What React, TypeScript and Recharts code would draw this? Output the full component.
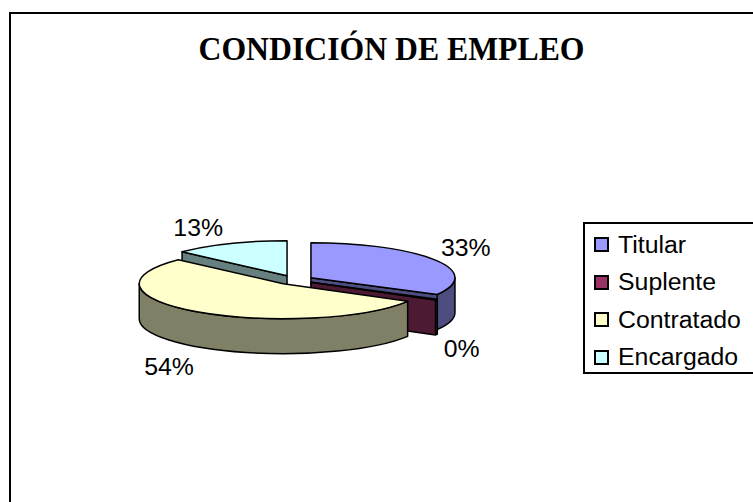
import React from "react";
import { PieChart, Pie, Legend } from "recharts";

const categories = ["Titular", "Suplente", "Contratado", "Encargado"];
const shares = [33, 0.4, 53.6, 13];
const topColors = ["#9999FF", "#993366", "#FFFFCC", "#CCFFFF"];
const wallColors = ["#4D4D80", "#4D1A33", "#808066", "#668080"];
const title = "CONDICIÓN DE EMPLEO";

const rows = categories.map((name, i) => ({ name, value: shares[i], fill: topColors[i] }));

const W = 753;
const H = 502;
const CX = 294.6;
const CY = 280;
const RX = 144;
const RY = 35;
const DEPTH = 35;
const EXPLODE = 19;
const TEXT_STRETCH = 1.08;
const LABEL_NUDGE = [[-1, 12], [-7, 43], [-6, 39], [-17, 20]];

const FONT = "'Liberation Sans', Arial, sans-serif";

function geometry(p: any) {
  const a0 = 90 - p.startAngle;
  const a1 = 90 - p.endAngle;
  const mid = ((a0 + a1) / 2) * (Math.PI / 180);
  const r = p.outerRadius;
  const k = RY / RX;
  const ox = p.cx + EXPLODE * Math.sin(mid);
  const oy = p.cy - EXPLODE * k * Math.cos(mid);
  const pt = (deg: number, drop = 0) => {
    const t = (deg * Math.PI) / 180;
    return [ox + r * Math.sin(t), oy - r * k * Math.cos(t) + drop];
  };
  return { a0, a1, r, ry: r * k, ox, oy, pt };
}

function TopShape(p: any) {
  const { a0, a1, r, ry, ox, oy, pt } = geometry(p);
  const [sx, sy] = pt(a0);
  const [ex, ey] = pt(a1);
  const large = a1 - a0 > 180 ? 1 : 0;
  return (
    <path
      d={`M${ox},${oy} L${sx},${sy} A${r},${ry} 0 ${large} 1 ${ex},${ey} Z`}
      fill={p.fill}
      stroke="#000"
      strokeWidth={1.5}
      strokeLinejoin="round"
    />
  );
}

function WallShape(p: any) {
  const { a0, a1, r, ry, ox, oy, pt } = geometry(p);
  const color = wallColors[categories.indexOf(p.name)];
  const parts: string[] = [];
  const face = (deg: number) => {
    const [x, y] = pt(deg);
    const [xd, yd] = pt(deg, DEPTH);
    parts.push(`M${ox},${oy} L${x},${y} L${xd},${yd} L${ox},${oy + DEPTH} Z`);
  };
  if (a1 > 0 && a1 < 180) face(a1);
  if (a0 > 180 && a0 < 360) face(a0);
  const from = Math.max(a0, 90);
  const to = Math.min(a1, 270);
  if (to > from) {
    const [sx, sy] = pt(from);
    const [ex, ey] = pt(to);
    const [exd, eyd] = pt(to, DEPTH);
    const [sxd, syd] = pt(from, DEPTH);
    parts.push(
      `M${sx},${sy} A${r},${ry} 0 0 1 ${ex},${ey} L${exd},${eyd} A${r},${ry} 0 0 0 ${sxd},${syd} Z`
    );
  }
  return <path d={parts.join(" ")} fill={color} stroke="#000" strokeWidth={1.5} strokeLinejoin="round" />;
}

function PercentLabel(p: any) {
  const t = ((90 - p.midAngle) * Math.PI) / 180;
  const [nx, ny] = LABEL_NUDGE[p.index];
  const x = CX + 200 * Math.sin(t) + nx;
  const y = CY - 70 * Math.cos(t) + ny;
  return (
    <text
      transform={`translate(${x},${y}) scale(${TEXT_STRETCH},1)`}
      textAnchor="middle"
      fontFamily={FONT}
      fontSize={23}
      fill="#000"
    >
      {`${Math.round(p.percent * 100)}%`}
    </text>
  );
}

function LegendBox({ payload }: any) {
  const items = categories.map((name, i) => ({
    value: (payload || []).find((e: any) => e.value === name)?.value ?? name,
    color: topColors[i],
  }));
  return (
    <div
      style={{
        boxSizing: "border-box",
        width: 200,
        height: 152,
        border: "2px solid #000",
        background: "#fff",
        paddingTop: 2,
      }}
    >
      {items.map((item) => (
        <div key={item.value} style={{ height: 37.5, display: "flex", alignItems: "center", position: "relative" }}>
          <span
            style={{
              boxSizing: "border-box",
              width: 15,
              height: 15,
              marginLeft: 9,
              border: "2px solid #000",
              background: item.color,
            }}
          />
          <span
            style={{
              marginLeft: 9,
              fontFamily: FONT,
              fontSize: 23,
              lineHeight: "24px",
              color: "#000",
              transform: `scaleX(${TEXT_STRETCH})`,
              transformOrigin: "left center",
            }}
          >
            {item.value}
          </span>
        </div>
      ))}
    </div>
  );
}

export default function App() {
  return (
    <div style={{ position: "fixed", left: 0, top: 0, width: W, height: H, overflow: "hidden", background: "#fff" }}>
      <div
        style={{
          position: "absolute",
          left: 9,
          top: 12,
          width: 900,
          height: 700,
          border: "2px solid #000",
        }}
      />
      <div style={{ position: "absolute", left: 0, top: 0 }}>
        <PieChart width={W} height={H} margin={{ top: 0, right: 0, bottom: 0, left: 0 }}>
          <text
            x={391.5}
            y={60}
            textAnchor="middle"
            fontFamily="'Liberation Serif', 'Times New Roman', serif"
            fontWeight="bold"
            fontSize={33}
            textLength={386}
            lengthAdjust="spacingAndGlyphs"
            fill="#000"
          >
            {title}
          </text>
          <Pie
            data={rows}
            dataKey="value"
            nameKey="name"
            cx={CX}
            cy={CY}
            outerRadius={RX}
            startAngle={90}
            endAngle={-270}
            paddingAngle={0}
            stroke="none"
            legendType="none"
            isAnimationActive={false}
            shape={WallShape}
            activeShape={WallShape}
            inactiveShape={WallShape}
          />
          <Pie
            data={rows}
            dataKey="value"
            nameKey="name"
            cx={CX}
            cy={CY}
            outerRadius={RX}
            startAngle={90}
            endAngle={-270}
            paddingAngle={0}
            stroke="none"
            isAnimationActive={false}
            shape={TopShape}
            activeShape={TopShape}
            inactiveShape={TopShape}
            label={PercentLabel}
            labelLine={false}
          />
          <Legend
            layout="vertical"
            align="right"
            verticalAlign="top"
            content={<LegendBox />}
            wrapperStyle={{ position: "absolute", left: 583, top: 222, width: 200, height: 152 }}
          />
        </PieChart>
      </div>
    </div>
  );
}
